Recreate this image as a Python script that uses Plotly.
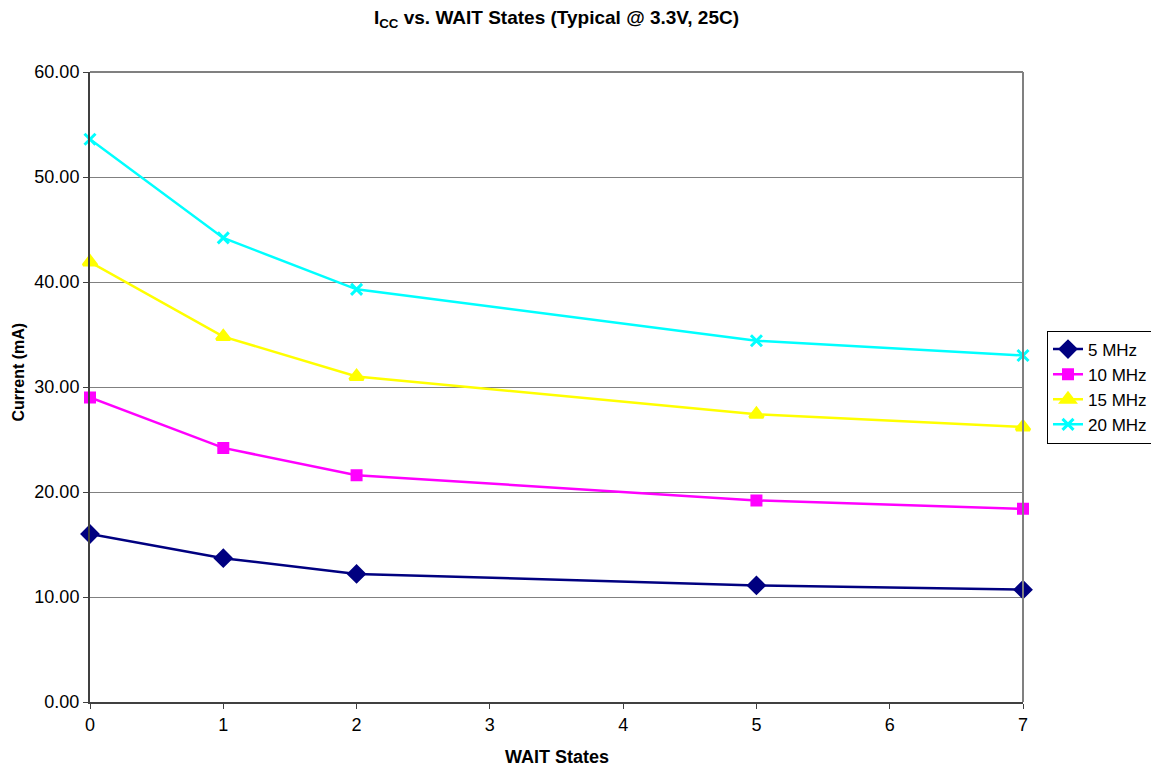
import plotly.graph_objects as go

wait_states = [0, 1, 2, 5, 7]
mhz5 = [16.0, 13.7, 12.2, 11.1, 10.7]
mhz10 = [29.0, 24.2, 21.6, 19.2, 18.4]
mhz15 = [41.9, 34.8, 31.0, 27.4, 26.2]
mhz20 = [53.6, 44.2, 39.3, 34.4, 33.0]

series = [
    ("5 MHz", mhz5, "#000080", "diamond", 12),
    ("10 MHz", mhz10, "#FF00FF", "square", 9),
    ("15 MHz", mhz15, "#FFFF00", "triangle-up", 12),
    ("20 MHz", mhz20, "#00FFFF", "x-thin", 11),
]

fig = go.Figure()
for name, vals, color, sym, size in series:
    fig.add_trace(go.Scatter(
        x=wait_states, y=vals, name=name, mode="lines+markers",
        line=dict(color=color, width=2.5),
        marker=dict(symbol=sym, size=size, color=color,
                    line=dict(color=color, width=3)),
        cliponaxis=False,
    ))

font = "Liberation Sans, Arial, sans-serif"
# page body adds 8px offset, so the figure is 8px smaller
W, H = 1151, 760
L, R, T, B = 82, 136, 64, 66
pw = W - L - R
ph = H - T - B

fig.update_layout(
    width=W, height=H,
    paper_bgcolor="white", plot_bgcolor="white",
    margin=dict(l=L, r=R, t=T, b=B, autoexpand=False),
    font=dict(family=font, size=18, color="black"),
    title=dict(text="<b>I<sub>CC</sub> vs. WAIT States (Typical @ 3.3V, 25C)</b>",
               xref="paper", x=0.5, xanchor="center",
               yref="container", y=1 - 9 / H, yanchor="middle",
               font=dict(size=19)),
    showlegend=True,
    legend=dict(x=1 + 24 / pw, xanchor="left", y=(ph - (387 - 72)) / ph, yanchor="middle",
                bordercolor="black", borderwidth=1, bgcolor="white",
                font=dict(size=17), tracegroupgap=0, itemwidth=30),
    xaxis=dict(range=[0, 7], dtick=1, showgrid=False, zeroline=False,
               showline=True, linecolor="#404040", linewidth=2,
               ticks="outside", ticklen=5, tickcolor="#404040"),
    yaxis=dict(range=[0, 60], dtick=10, tickformat=".2f", showgrid=True,
               gridcolor="#808080", gridwidth=1, zeroline=False,
               showline=True, linecolor="#404040", linewidth=2,
               ticks="outside", ticklen=5, tickcolor="#404040"),
)

fig.add_annotation(text="<b>WAIT States</b>", xref="paper", yref="paper",
                   x=0.5, y=-55 / ph, xanchor="center", yanchor="middle",
                   showarrow=False, font=dict(size=18))
fig.add_annotation(text="<b>Current (mA)</b>", xref="paper", yref="paper",
                   x=(0 - L) / pw, y=(ph - (372 - 72)) / ph, xanchor="left", yanchor="middle",
                   textangle=-90, showarrow=False, font=dict(size=16), borderpad=0)

# gray frame on top and right of plot area
fig.add_shape(type="line", xref="paper", yref="paper", x0=0, x1=1, y0=1, y1=1,
              line=dict(color="#808080", width=2))
fig.add_shape(type="line", xref="paper", yref="paper", x0=1, x1=1, y0=0, y1=1,
              line=dict(color="#808080", width=2))

fig.write_html("out.html")
